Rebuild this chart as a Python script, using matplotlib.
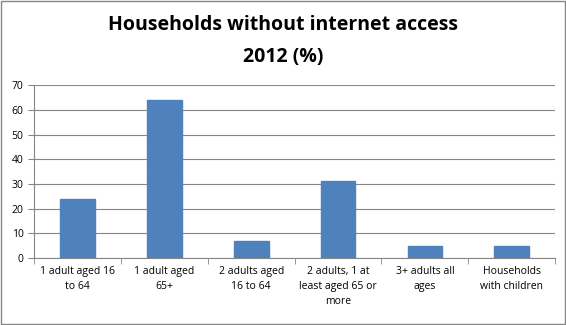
import matplotlib
matplotlib.use("Agg")
import matplotlib.pyplot as plt
from matplotlib.patches import Rectangle

categories = ["1 adult aged 16\nto 64", "1 adult aged\n65+", "2 adults aged\n16 to 64",
              "2 adults, 1 at\nleast aged 65 or\nmore", "3+ adults all\nages", "Households\nwith children"]
values = [24, 64, 7, 31, 5, 5]
yticks = [0, 10, 20, 30, 40, 50, 60, 70]

plt.rcParams['font.family'] = ['Open Sans', 'DejaVu Sans']

fig = plt.figure(figsize=(5.66, 3.25), dpi=100)
ax = fig.add_axes([0.060, 0.206, 0.921, 0.532])

x = list(range(len(categories)))
ax.bar(x, values, width=0.40, color="#4f81bd", edgecolor="#4f81bd", zorder=3)
ax.set_xlim(-0.5, len(categories) - 0.5)
ax.set_ylim(0, 70)
ax.set_yticks(yticks)
ax.yaxis.grid(True, color="#868686", linewidth=0.8, zorder=0)
for s in ["top", "right"]:
    ax.spines[s].set_visible(False)
ax.spines["left"].set_color("#868686")
ax.spines["bottom"].set_color("#868686")
ax.set_xticks(x)
ax.set_xticklabels(categories, fontsize=7.5, linespacing=1.5)
ax.tick_params(axis="x", length=0, pad=6)
ax.set_xticks([i - 0.5 for i in range(len(categories) + 1)], minor=True)
ax.tick_params(axis="x", which="minor", length=4, color="#868686", direction="out")
ax.tick_params(axis="y", labelsize=7.5, length=4, color="#868686", direction="out")

fig.text(0.5, 0.922, "Households without internet access", ha="center", va="center",
         fontsize=14, fontweight="bold")
fig.text(0.5, 0.825, "2012 (%)", ha="center", va="center", fontsize=14, fontweight="bold")

fig.patches.append(Rectangle((0.001, 0.002), 0.997, 0.995, transform=fig.transFigure,
                             fill=False, edgecolor="#868686", linewidth=1))

fig.savefig("out.png", dpi=100)
